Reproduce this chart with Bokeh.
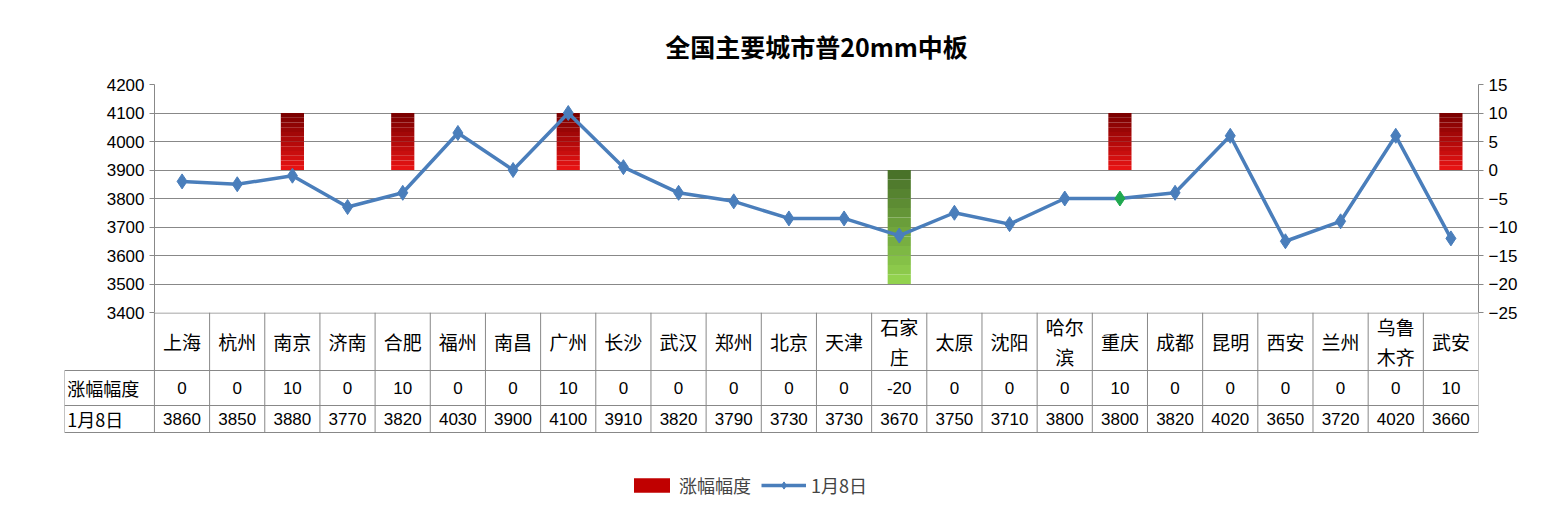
from bokeh.plotting import figure
from bokeh.models import Range1d, LinearAxis, FixedTicker, Title, Legend, LegendItem
from bokeh.layouts import column, row
from bokeh.embed import file_html
from bokeh.resources import INLINE
from bokeh.core.properties import value

cities = ["上海","杭州","南京","济南","合肥","福州","南昌","广州","长沙","武汉","郑州","北京","天津","石家\n庄","太原","沈阳","哈尔\n滨","重庆","成都","昆明","西安","兰州","乌鲁\n木齐","武安"]
change = [0,0,10,0,10,0,0,10,0,0,0,0,0,-20,0,0,0,10,0,0,0,0,0,10]
price = [3860,3850,3880,3770,3820,4030,3900,4100,3910,3820,3790,3730,3730,3670,3750,3710,3800,3800,3820,4020,3650,3720,4020,3660]
row1_label = "涨幅幅度"
row2_label = "1月8日"

FONT = "Noto Sans CJK SC"
n = len(cities)
xs = [i + 0.5 for i in range(n)]
W, H1, H2 = 1533, 322, 194

p = figure(width=W, height=H1, x_range=Range1d(0, n), y_range=Range1d(3400, 4200),
           output_backend="svg", toolbar_location=None,
           min_border_left=154, min_border_right=55, min_border_top=84, min_border_bottom=10)
p.title = Title(text="全国主要城市普20mm中板", align="center", text_font=FONT,
                text_font_size="25px", text_font_style="bold", text_color="#000", standoff=42)
p.xaxis.visible = False
p.xgrid.visible = False
p.ygrid.ticker = FixedTicker(ticks=list(range(3400, 4201, 100)))
p.ygrid.grid_line_color = "#888888"
p.yaxis.ticker = FixedTicker(ticks=list(range(3400, 4201, 100)))
p.outline_line_color = None
p.extra_y_ranges = {"r": Range1d(-25, 15)}
ax2 = LinearAxis(y_range_name="r", ticker=FixedTicker(ticks=list(range(-25, 16, 5))))
p.add_layout(ax2, "right")
for ax in (p.yaxis[0], ax2):
    ax.major_label_text_font = "Liberation Sans"
    ax.major_label_text_font_size = "17px"
    ax.major_label_text_color = "#000"
    ax.axis_line_color = "#888888"
    ax.major_tick_line_color = "#888888"
    ax.major_tick_out = 5
    ax.major_tick_in = 0
    ax.minor_tick_line_color = None

steps = 12
red_top, red_bot = (120, 0, 0), (235, 20, 20)
grn_top, grn_bot = (70, 110, 40), (150, 215, 80)
for i, c in enumerate(change):
    if c == 0:
        continue
    for k in range(steps):
        t0 = c * k / steps
        t1 = c * (k + 1) / steps
        f = (k + 0.5) / steps
        a, b = (red_bot, red_top) if c > 0 else (grn_top, grn_bot)
        col = tuple(int(a[j] + (b[j] - a[j]) * f) for j in range(3))
        p.vbar(x=[xs[i]], bottom=[t0], top=[t1], width=0.42, y_range_name="r",
               fill_color="#%02x%02x%02x" % col, line_color=None)
p.line(xs, price, line_color="#4a7ebb", line_width=3.5)
mcol = ["#1fa84f" if cities[i] == "重庆" else "#4a7ebb" for i in range(n)]
p.scatter(xs, price, marker="diamond", size=15, fill_color=mcol, line_color=mcol)

t = figure(width=W, height=H2, x_range=Range1d(-1.63, n), y_range=Range1d(0, H2),
           output_backend="svg", toolbar_location=None, styles={"margin-top": "-10px"},
           min_border_left=64, min_border_right=55, min_border_top=0, min_border_bottom=0)
t.axis.visible = False
t.grid.visible = False
t.outline_line_color = None
t.background_fill_alpha = 0
t.border_fill_alpha = 0
gc = "#888888"
ytop, y1, y2, y3 = H2, H2 - 58, H2 - 93, H2 - 120
t.segment(x0=[0, -1.63, -1.63, -1.63], y0=[ytop - 0.5, y1, y2, y3], x1=[n] * 4,
          y1=[ytop - 0.5, y1, y2, y3], line_color=gc)
vx = list(range(0, n + 1))
t.segment(x0=vx, y0=[ytop] * len(vx), x1=vx, y1=[y3] * len(vx), line_color=gc)
t.segment(x0=[-1.63], y0=[y1], x1=[-1.63], y1=[y3], line_color=gc)
t.text(x=xs, y=[(ytop + y1) / 2] * n, text=cities, text_align="center", text_baseline="middle",
       text_font=value(FONT), text_font_size="19px", text_line_height=1.1, text_color="#000")
t.text(x=xs, y=[(y1 + y2) / 2] * n, text=[str(v) for v in change], text_align="center",
       text_baseline="middle", text_font=value("Liberation Sans"), text_font_size="17px")
t.text(x=xs, y=[(y2 + y3) / 2] * n, text=[str(v) for v in price], text_align="center",
       text_baseline="middle", text_font=value("Liberation Sans"), text_font_size="17px")
t.text(x=[-1.58, -1.58], y=[(y1 + y2) / 2, (y2 + y3) / 2], text=[row1_label, row2_label],
       text_align="left", text_baseline="middle", text_font=value(FONT), text_font_size="18px")

lb = t.vbar(x=[-10], top=[0], bottom=[-1], width=0.5, fill_color="#c00000", line_color=None)
ll = t.line([-10, -9], [-1, -1], line_color="#4a7ebb", line_width=3.5)
lm = t.scatter([-10], [-1], marker="diamond", size=15, fill_color="#4a7ebb", line_color="#4a7ebb")
leg = Legend(items=[LegendItem(label=row1_label, renderers=[lb]),
                    LegendItem(label=row2_label, renderers=[ll, lm])],
             orientation="horizontal", location=(565, 8), border_line_color=None,
             background_fill_alpha=0, label_text_font=FONT, label_text_font_size="18px",
             glyph_width=45, glyph_height=18, spacing=10)
t.add_layout(leg)

lay = column(row(p), row(t), spacing=0)
open("out.html", "w").write(file_html(lay, INLINE))
